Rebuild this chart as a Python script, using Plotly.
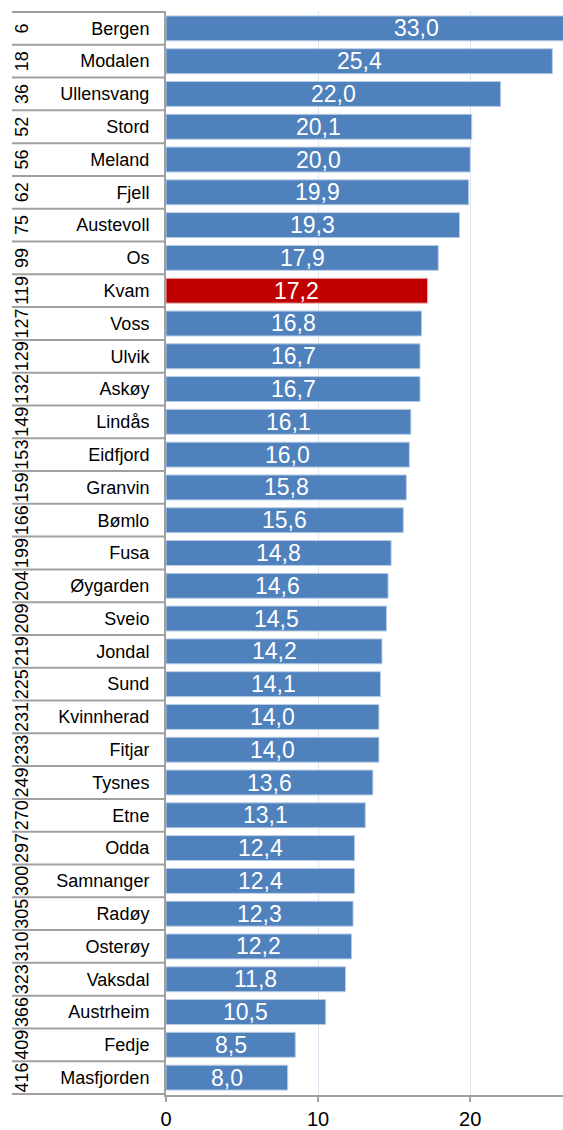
import plotly.graph_objects as go

names = ["Bergen", "Modalen", "Ullensvang", "Stord", "Meland", "Fjell", "Austevoll", "Os",
         "Kvam", "Voss", "Ulvik", "Askøy", "Lindås", "Eidfjord", "Granvin", "Bømlo", "Fusa",
         "Øygarden", "Sveio", "Jondal", "Sund", "Kvinnherad", "Fitjar", "Tysnes", "Etne",
         "Odda", "Samnanger", "Radøy", "Osterøy", "Vaksdal", "Austrheim", "Fedje", "Masfjorden"]
ranks = [6, 18, 36, 52, 56, 62, 75, 99, 119, 127, 129, 132, 149, 153, 159, 166, 199, 204,
         209, 219, 225, 231, 233, 249, 270, 297, 300, 305, 310, 323, 366, 409, 416]
values = [33.0, 25.4, 22.0, 20.1, 20.0, 19.9, 19.3, 17.9, 17.2, 16.8, 16.7, 16.7, 16.1, 16.0,
          15.8, 15.6, 14.8, 14.6, 14.5, 14.2, 14.1, 14.0, 14.0, 13.6, 13.1, 12.4, 12.4, 12.3,
          12.2, 11.8, 10.5, 8.5, 8.0]
highlight = "Kvam"
x_ticks = [0, 10, 20]

BLUE = "#4F81BD"
RED = "#C00000"
GRAY = "#A0A0A0"
FONT = "Liberation Sans, Arial, sans-serif"

W, H = 563, 1130
ML, MR, MT, MB = 166, 0, 10.5, 32.5
pw = W - ML - MR

colors = [RED if n == highlight else BLUE for n in names]
line_colors = ["#E6B9B8" if n == highlight else "#B9CDE5" for n in names]

fig = go.Figure()
fig.add_trace(go.Bar(
    y=names, x=values, orientation="h",
    marker=dict(color=colors, line=dict(color=line_colors, width=1)),
    width=0.76, hoverinfo="skip",
))

# value labels centered on full bar length
for n, v in zip(names, values):
    fig.add_annotation(x=v / 2, y=n, xref="x", yref="y", text=f"{v:.1f}".replace(".", ","),
                       showarrow=False, font=dict(family=FONT, size=23, color="white"),
                       xanchor="center", yanchor="middle")

# rank labels (rotated)
x_rank = (22 - ML) / pw
for n, r in zip(names, ranks):
    fig.add_annotation(x=x_rank, y=n, xref="paper", yref="y", text=str(r),
                       showarrow=False, textangle=-90,
                       font=dict(family=FONT, size=18, color="black"),
                       xanchor="center", yanchor="middle")

# separator lines in the category area
x_left = (12 - ML) / pw
for i in range(len(names) + 1):
    fig.add_shape(type="line", xref="paper", yref="y", x0=x_left, x1=0,
                  y0=i - 0.5, y1=i - 0.5, line=dict(color=GRAY, width=2), layer="above")

fig.update_layout(
    width=W, height=H,
    margin=dict(l=ML, r=MR, t=MT, b=MB, pad=0),
    paper_bgcolor="white", plot_bgcolor="white",
    showlegend=False,
    font=dict(family=FONT, color="black"),
    xaxis=dict(range=[0, 26.1], tickvals=x_ticks, ticktext=[str(t) for t in x_ticks],
               showgrid=True, gridcolor="#DCE6F2", gridwidth=1,
               showline=True, linecolor=GRAY, linewidth=2,
               ticks="outside", ticklen=5, tickcolor=GRAY, tickwidth=2,
               tickfont=dict(size=20, family=FONT), zeroline=False, fixedrange=True),
    yaxis=dict(autorange="reversed", showline=True, linecolor=GRAY, linewidth=2,
               ticks="", tickfont=dict(size=18, family=FONT),
               ticklabelstandoff=11, showgrid=False, zeroline=False, fixedrange=True),
)

fig.write_html("out.html", config={"displayModeBar": False},
               post_script="document.body.style.margin='0';document.body.style.overflow='hidden';")
